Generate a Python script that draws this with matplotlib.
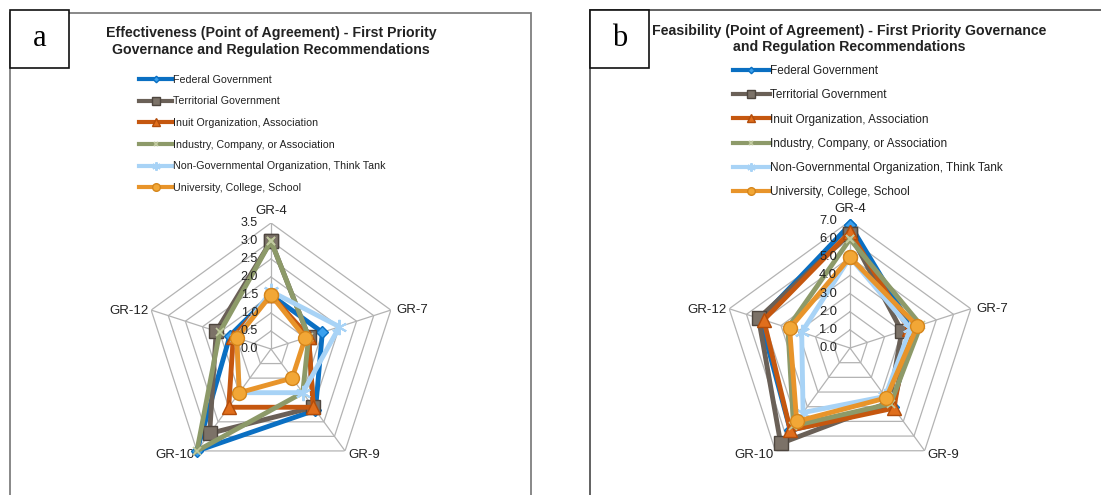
import matplotlib
matplotlib.use("Agg")
import matplotlib.pyplot as plt
import matplotlib.transforms as mtransforms
from matplotlib.patches import Rectangle
import numpy as np

plt.rcParams['font.family'] = ['Liberation Sans', 'DejaVu Sans']

# ---- data -------------------------------------------------------------
categories = ["GR-4", "GR-7", "GR-9", "GR-10", "GR-12"]
groups = [
    "Federal Government",
    "Territorial Government",
    "Inuit Organization, Association",
    "Industry, Company, or Association",
    "Non-Governmental Organization, Think Tank",
    "University, College, School",
]

# Effectiveness (point of agreement), one list per stakeholder group
eff_federal = [1.5, 1.5, 2.1, 3.5, 1.2]
eff_territorial = [3.0, 1.1, 2.0, 2.9, 1.6]
eff_inuit = [1.5, 1.1, 2.0, 2.0, 1.1]
eff_industry = [3.0, 1.1, 1.5, 3.5, 1.5]
eff_ngo = [1.6, 2.0, 1.5, 1.5, 1.0]
eff_university = [1.5, 1.0, 1.0, 1.5, 1.0]

# Feasibility (point of agreement)
fea_federal = [6.8, 3.6, 4.0, 5.6, 5.2]
fea_territorial = [6.3, 3.0, 3.7, 6.5, 5.3]
fea_inuit = [6.4, 3.4, 4.1, 5.6, 5.0]
fea_industry = [6.0, 4.1, 3.8, 5.3, 3.6]
fea_ngo = [5.0, 3.5, 3.3, 4.4, 2.8]
fea_university = [5.0, 3.9, 3.4, 5.0, 3.5]

eff_ticks = [0.0, 0.5, 1.0, 1.5, 2.0, 2.5, 3.0, 3.5]
fea_ticks = [0.0, 1.0, 2.0, 3.0, 4.0, 5.0, 6.0, 7.0]

title_a = ("Effectiveness (Point of Agreement) - First Priority\n"
           "Governance and Regulation Recommendations")
title_b = ("Feasibility (Point of Agreement) - First Priority Governance\n"
           "and Regulation Recommendations")

# ---- styling ----------------------------------------------------------
styles = [
    dict(color="#0A6FC2", marker="D", ms=6, mfc="#3AA0EE", mec="#0A6FC2", mew=1.0),
    dict(color="#6A6057", marker="s", ms=10, mfc="#7C7268", mec="#4E463F", mew=1.0),
    dict(color="#C5570F", marker="^", ms=10, mfc="#E06E1C", mec="#B24C0A", mew=1.0),
    dict(color="#8D9A69", marker="x", ms=6, mfc="none", mec="#C2CBA0", mew=1.2),
    dict(color="#A8D3F6", marker=(6, 2, 0), ms=11, mfc="none", mec="#A8D3F6", mew=1.5),
    dict(color="#E8942A", marker="o", ms=10, mfc="#F2A736", mec="#D5861C", mew=1.0),
]

W, H, DPI = 1101, 495, 100
fig = plt.figure(figsize=(W / DPI, H / DPI), dpi=DPI)
fig.patch.set_facecolor("white")


def px_rect(x0, y0, x1, y1, **kw):
    """Rectangle given in pixel coordinates measured from the top-left."""
    r = Rectangle((x0 / W, 1 - y1 / H), (x1 - x0) / W, (y1 - y0) / H,
                  transform=fig.transFigure, clip_on=False, **kw)
    fig.add_artist(r)
    return r


def radar(cx, cy, R, series, ticks, tick_fs, label_offsets):
    ax = fig.add_axes([(cx - R) / W, 1 - (cy + R) / H, 2 * R / W, 2 * R / H],
                      projection="polar")
    ax.set_theta_offset(np.pi / 2)
    ax.set_theta_direction(-1)
    rmax = ticks[-1]
    ax.set_ylim(0, rmax)
    ax.grid(False)
    ax.set_xticks([])
    ax.set_yticks([])
    ax.spines["polar"].set_visible(False)
    ax.patch.set_alpha(0)

    n = len(categories)
    theta = np.arange(n) * 2 * np.pi / n
    closed = np.append(theta, theta[0])

    # polygon grid rings and spokes
    for v in ticks[1:]:
        ax.plot(closed, [v] * (n + 1), color="#B3B3B3", lw=0.9, zorder=1)
    for t in theta:
        ax.plot([t, t], [0, rmax], color="#B3B3B3", lw=0.9, zorder=1)

    # radial value labels to the left of the top spoke, drawn over the series
    for v in ticks:
        tr = mtransforms.offset_copy(ax.transData, fig=fig, x=-13, y=0, units="dots")
        ax.text(0, v, f"{v:.1f}", transform=tr, ha="right", va="center",
                fontsize=tick_fs, color="#222222", zorder=20)

    # category labels round the outer ring
    for t, lab, (dx, dy, ha) in zip(theta, categories, label_offsets):
        tr = mtransforms.offset_copy(ax.transData, fig=fig, x=dx, y=dy, units="dots")
        ax.text(t, rmax, lab, transform=tr, ha=ha, va="center",
                fontsize=9.5, color="#222222")

    handles = []
    for k, (vals, st) in enumerate(zip(series, styles)):
        v = np.append(vals, vals[0])
        (ln,) = ax.plot(closed, v, color=st["color"], lw=3.5, solid_joinstyle="miter",
                        marker=st["marker"], ms=st["ms"], mfc=st["mfc"],
                        mec=st["mec"], mew=st["mew"], zorder=3 + k, clip_on=False)
        handles.append(ln)
    return ax, handles


label_offs = [(0, 12, "center"), (6, 0, "left"), (3, -4, "left"),
              (-2, -4, "right"), (-3, -1, "right")]

eff_series = [eff_federal, eff_territorial, eff_inuit, eff_industry, eff_ngo, eff_university]
fea_series = [fea_federal, fea_territorial, fea_inuit, fea_industry, fea_ngo, fea_university]

ax_a, h_a = radar(271, 349, 126, eff_series, eff_ticks, 9.0, label_offs)
ax_b, h_b = radar(850, 348, 127, fea_series, fea_ticks, 9.3, label_offs)

# panel frames and letter boxes
px_rect(10, 13, 531, 560, fill=False, ec="#7F7F7F", lw=1.3, zorder=0)
px_rect(590, 10, 1200, 560, fill=False, ec="#555555", lw=1.3, zorder=0)
px_rect(10, 10, 69, 68, fc="white", ec="#111111", lw=1.2, zorder=5)
px_rect(590, 10, 649, 68, fc="white", ec="#111111", lw=1.2, zorder=5)
fig.text(39.5 / W, 1 - 38 / H, "a", family=["Liberation Serif"], fontsize=22,
         ha="center", va="center", zorder=6)
fig.text(619.5 / W, 1 - 38 / H, "b", family=["Liberation Serif"], fontsize=22,
         ha="center", va="center", zorder=6)

# titles
fig.text(271 / W, 1 - 41.5 / H, title_a, ha="center", va="center",
         fontsize=10.2, fontweight="bold", linespacing=1.2, color="#222222")
fig.text(849 / W, 1 - 39 / H, title_b, ha="center", va="center",
         fontsize=10.2, fontweight="bold", linespacing=1.2, color="#222222")

# legends
for ax, hs, (lx, ly), fs, sp in [(ax_a, h_a, (139, 74.8), 7.7, 1.09),
                                   (ax_b, h_b, (733, 65), 8.5, 1.04)]:
    leg = ax.legend(hs, groups, loc="upper left",
                    bbox_to_anchor=(lx / W, 1 - ly / H),
                    bbox_transform=fig.transFigure, frameon=False,
                    fontsize=fs, handlelength=3.1, handletextpad=0.05,
                    labelspacing=sp, borderpad=0, borderaxespad=0,
                    markerscale=0.55)
    for t in leg.get_texts():
        t.set_color("#222222")
    for ln in leg.get_lines():
        ln.set_linewidth(3.0)

fig.savefig("out.png", dpi=DPI, facecolor="white")
